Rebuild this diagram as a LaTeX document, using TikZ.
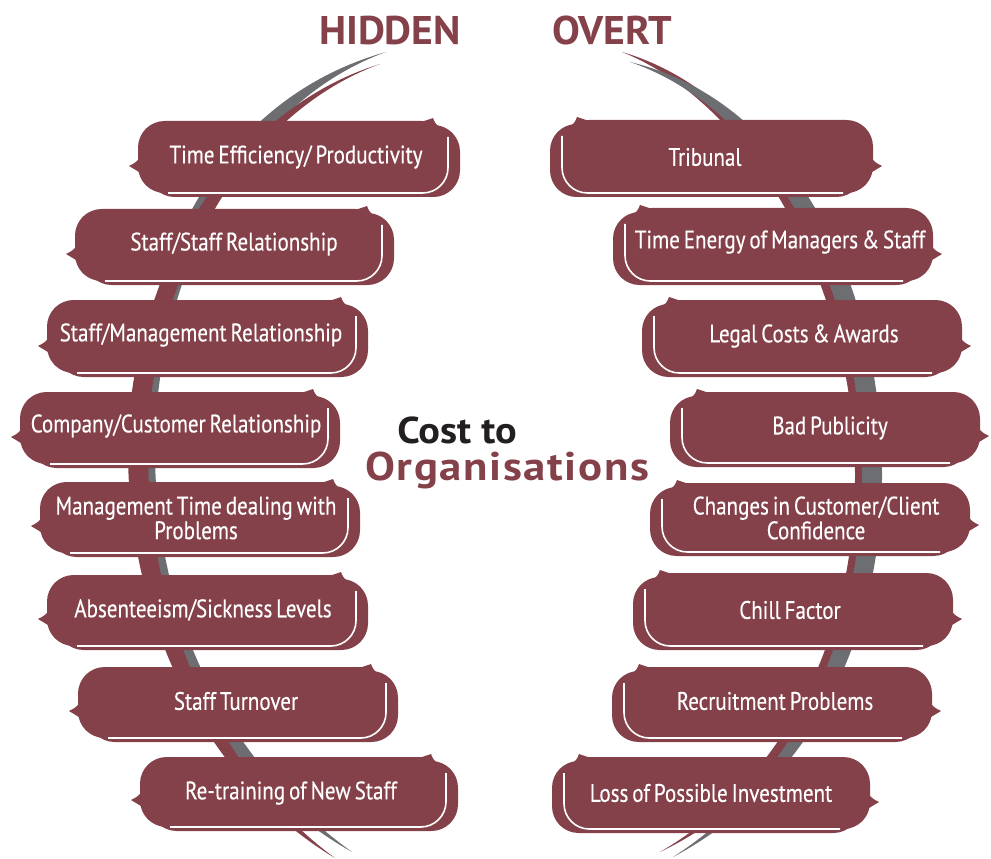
\documentclass[tikz,border=0pt]{standalone}
\usepackage{fontspec}
\setmainfont{PT Sans}
\newfontfamily\boxfont[FakeStretch=0.83,WordSpace=0.7,FakeBold=0.3]{PT Sans}
\newfontfamily\headfont[FakeStretch=1.04]{PT Sans}
\newfontfamily\orgfont[FakeStretch=1.12,LetterSpace=4]{PT Sans}
\newfontfamily\costfont[FakeStretch=1.08]{PT Sans}
\definecolor{mar}{RGB}{132,65,74}
\definecolor{arcgrey}{RGB}{109,110,113}
\definecolor{inkblack}{RGB}{35,31,32}
\tikzset{
  boxtext/.style={text=white, font=\boxfont\fontsize{19}{17}\selectfont, align=center, inner sep=0pt},
  headtext/.style={text=mar, font=\headfont\bfseries\fontsize{30}{30}\selectfont, inner sep=0pt},
}
\newcommand\LBox[4]{%
  \fill[mar,rounded corners=20pt] (#1+10,#2+4) rectangle (#3,#4);
  \fill[mar,rounded corners=20pt] (#1,#2) rectangle (#3-12,#4-4);
  \draw[white,line width=1.2pt,rounded corners=19pt] (#1+30,#4-4) -- (#3-12,#4-4) -- (#3-12,#2+16);
  \fill[mar] (#1+3,#4-40) .. controls (#1-3,#4-34) .. (#1-9,#4-31) .. controls (#1-2,#4-26) .. (#1+6,#4-22) -- cycle;
  \fill[mar] (#3-42,#2+2) .. controls (#3-34,#2) .. (#3-27,#2-3) .. controls (#3-25,#2+2) .. (#3-21,#2+6) -- cycle;
}
\newcommand\RBox[4]{%
  \fill[mar,rounded corners=20pt] (#1,#2+4) rectangle (#3-10,#4);
  \fill[mar,rounded corners=20pt] (#1+12,#2) rectangle (#3,#4-4);
  \draw[white,line width=1.2pt,rounded corners=19pt] (#3-30,#4-4) -- (#1+12,#4-4) -- (#1+12,#2+16);
  \fill[mar] (#3-3,#4-40) .. controls (#3+3,#4-34) .. (#3+9,#4-31) .. controls (#3+2,#4-26) .. (#3-6,#4-22) -- cycle;
  \fill[mar] (#1+42,#2+2) .. controls (#1+34,#2) .. (#1+27,#2-3) .. controls (#1+25,#2+2) .. (#1+21,#2+6) -- cycle;
}
\begin{document}
\begin{tikzpicture}[x=0.75pt,y=-0.75pt]
\useasboundingbox (0,0) rectangle (991,859);
% left arcs
\fill[arcgrey] (386,52) .. controls (215,100) and (135,270) .. (135,450) .. controls (135,640) and (225,780) .. (352,852) .. controls (245,775) and (155,640) .. (155,450) .. controls (155,280) and (240,105) .. (386,52) -- cycle;
\fill[mar] (380,64) .. controls (230,110) and (128,280) .. (128,450) .. controls (128,640) and (220,790) .. (335,858) .. controls (235,785) and (148,640) .. (148,450) .. controls (148,285) and (240,115) .. (380,64) -- cycle;
% right arcs
\fill[mar] (622,52) .. controls (770,95) and (872,280) .. (872,475) .. controls (872,650) and (790,790) .. (660,852) .. controls (775,785) and (855,650) .. (855,475) .. controls (855,290) and (755,105) .. (622,52) -- cycle;
\fill[arcgrey] (630,62) .. controls (790,100) and (882,280) .. (882,475) .. controls (882,650) and (800,790) .. (673,857) .. controls (785,785) and (862,650) .. (862,475) .. controls (862,285) and (770,110) .. (630,62) -- cycle;
% left boxes
\LBox{138}{121}{460}{197}
\LBox{75}{209}{394}{285}
\LBox{47}{300}{368}{377}
\LBox{20}{392}{340}{468}
\LBox{40}{482}{360}{557}
\LBox{47}{575}{368}{650}
\LBox{78}{667}{398}{742}
\LBox{140}{757}{458}{831}
% right boxes
\RBox{550}{120}{873}{197}
\RBox{613}{208}{933}{285}
\RBox{642}{300}{962}{377}
\RBox{670}{392}{980}{467}
\RBox{650}{483}{970}{556}
\RBox{633}{573}{953}{650}
\RBox{612}{667}{932}{742}
\RBox{552}{757}{870}{833}
% texts
\node[boxtext] (l1) at (296,157) {Time Efficiency/ Productivity};
\node[boxtext] (l2) at (234,244) {Staff/Staff Relationship};
\node[boxtext] (l3) at (201,335) {Staff/Management Relationship};
\node[boxtext] (l4) at (176,426) {Company/Customer Relationship};
\node[boxtext] (l5) at (196,518) {Management Time dealing with\\Problems};
\node[boxtext] (l6) at (203,610) {Absenteeism/Sickness Levels};
\node[boxtext] (l7) at (236,701) {Staff Turnover};
\node[boxtext] (l8) at (291,793) {Re-training of New Staff};
\node[boxtext] (r1) at (705,157) {Tribunal};
\node[boxtext] (r2) at (780,242) {Time Energy of Managers \& Staff};
\node[boxtext] (r3) at (804,336) {Legal Costs \& Awards};
\node[boxtext] (r4) at (830,428) {Bad Publicity};
\node[boxtext] (r5) at (816,518) {Changes in Customer/Client\\Confidence};
\node[boxtext] (r6) at (790,610) {Chill Factor};
\node[boxtext] (r7) at (775,701) {Recruitment Problems};
\node[boxtext] (r8) at (711,793) {Loss of Possible Investment};
\node[headtext, anchor=base] (hidden) at (390,45) {HIDDEN};
\node[headtext, anchor=base] (overt) at (612,45) {OVERT};
\node[headtext, text=inkblack, anchor=base west, font=\costfont\bfseries\fontsize{28}{28}\selectfont] (cost) at (397,443) {Cost to};
\node[headtext, anchor=base west, font=\orgfont\bfseries\fontsize{30}{30}\selectfont] (org) at (365,480) {Organisations};
\end{tikzpicture}
\end{document}
